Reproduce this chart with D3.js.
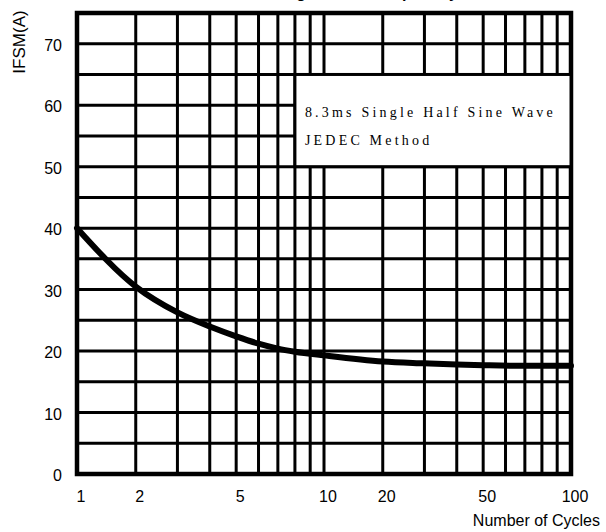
<!DOCTYPE html>
<html>
<head>
<meta charset="utf-8">
<script src="https://cdn.jsdelivr.net/npm/d3@7"></script>
<style>
  body { margin: 0; background: #fff; }
  text { font-family: Arial, "Liberation Sans", sans-serif; }
</style>
</head>
<body>
<div id="chart"></div>
<script>
// curve
const cycles = [1, 2, 3, 4, 5, 6, 7, 8, 10, 20, 30, 40, 50, 70, 100];
const ifsm = [40, 30.5, 26.3, 24.0, 22.4, 21.2, 20.4, 19.9, 19.3, 18.3, 18.0, 17.8, 17.7, 17.6, 17.6];

const xGrid = [1, 2, 3, 4, 5, 6, 7, 8, 9, 10, 20, 30, 40, 50, 60, 70, 80, 90, 100];
const xTickLabels = [1, 2, 5, 10, 20, 50, 100];
const yGrid = [0, 5, 10, 15, 20, 25, 30, 35, 40, 45, 50, 55, 60, 65, 70, 75];
const yTickLabels = [0, 10, 20, 30, 40, 50, 60, 70];

const noteLines = ["8.3ms Single Half Sine Wave", "JEDEC Method"];
const noteFrom = 8, noteTo = 100, noteTop = 65, noteBottom = 50;

const W = 606, H = 532;
const margin = { top: 13, right: 35, bottom: 58, left: 77 };

const svg = d3.select("#chart").append("svg")
  .attr("width", W).attr("height", H);

// the paper's cycle axis is log-like per decade, but squeezed at the low end
function warp(v) {
  const dec = Math.floor(Math.log10(v) + 1e-9);
  const m = v / Math.pow(10, dec);
  return dec + Math.log10((m + 1) / 2) / Math.log10(5.5);
}
const xs = d3.scaleLinear().domain([0, 2]).range([margin.left, W - margin.right]);
const x = v => xs(warp(v));
const y = d3.scaleLinear().domain([0, 75]).range([H - margin.bottom, margin.top]);

// title, almost all of it above the frame (as in the scan)
svg.append("text")
  .attr("x", 330).attr("y", -2)
  .attr("text-anchor", "middle")
  .style("font-weight", "bold").style("font-size", "16px")
  .text("Forward Surge Current Capability");

// grid
const grid = svg.append("g").attr("stroke", "#000").attr("stroke-width", 3);
grid.selectAll("line.v").data(xGrid).enter().append("line")
  .attr("class", "v")
  .attr("x1", d => x(d)).attr("x2", d => x(d))
  .attr("y1", y(0)).attr("y2", y(75));
grid.selectAll("line.h").data(yGrid).enter().append("line")
  .attr("class", "h")
  .attr("x1", x(1)).attr("x2", x(100))
  .attr("y1", d => y(d)).attr("y2", d => y(d));

// frame
svg.append("rect")
  .attr("x", x(1)).attr("y", y(75))
  .attr("width", x(100) - x(1)).attr("height", y(0) - y(75))
  .attr("fill", "none").attr("stroke", "#000").attr("stroke-width", 4.5);

// note box
svg.append("rect")
  .attr("x", x(noteFrom)).attr("y", y(noteTop))
  .attr("width", x(noteTo) - x(noteFrom)).attr("height", y(noteBottom) - y(noteTop))
  .attr("fill", "#fff").attr("stroke", "#000").attr("stroke-width", 3);

svg.selectAll("text.note").data(noteLines).enter().append("text")
  .attr("class", "note")
  .attr("x", x(noteFrom) + 10)
  .attr("y", (d, i) => y(noteTop) + 43 + i * 28)
  .style("font-family", "'Liberation Serif', serif")
  .style("font-size", "14px")
  .style("letter-spacing", "3.2px")
  .text(d => d);

// curve
const line = d3.line()
  .x((d, i) => x(cycles[i]))
  .y(d => y(d))
  .curve(d3.curveMonotoneX);
svg.append("path")
  .datum(ifsm)
  .attr("d", line)
  .attr("fill", "none")
  .attr("stroke", "#000")
  .attr("stroke-width", 6)
  .attr("stroke-linecap", "round");

// tick labels
svg.selectAll("text.xt").data(xTickLabels).enter().append("text")
  .attr("class", "xt")
  .attr("x", d => x(d) + 4)
  .attr("y", y(0) + 28)
  .attr("text-anchor", "middle")
  .style("font-size", "16px")
  .text(d => d);

svg.selectAll("text.yt").data(yTickLabels).enter().append("text")
  .attr("class", "yt")
  .attr("x", x(1) - 15)
  .attr("y", d => y(d) + 7)
  .attr("text-anchor", "end")
  .style("font-size", "16px")
  .text(d => d);

// axis titles
svg.append("text")
  .attr("transform", "translate(25,42) rotate(-90)")
  .attr("text-anchor", "middle")
  .style("font-size", "17px")
  .text("IFSM(A)");

svg.append("text")
  .attr("x", 600).attr("y", 526)
  .attr("text-anchor", "end")
  .style("font-size", "16px")
  .text("Number of Cycles");
</script>
</body>
</html>
